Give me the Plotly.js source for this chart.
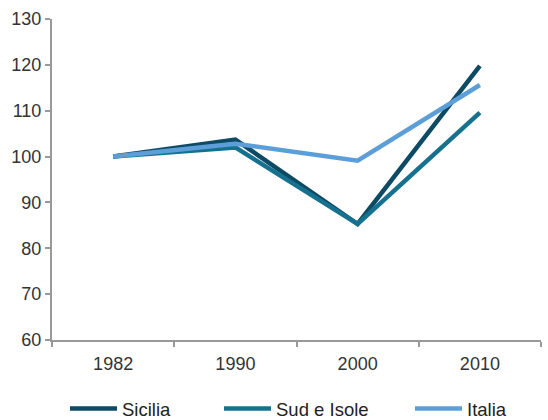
<!DOCTYPE html>
<html>
<head>
<meta charset="utf-8">
<script src="https://cdn.plot.ly/plotly-3.0.1.min.js"></script>
<style>
  html, body { margin: 0; padding: 0; background: #fff; }
  #chart { width: 548px; height: 420px; }
</style>
</head>
<body>
<div id="chart"></div>
<script>
// Index numbers (1982 = 100)
const years = ["1982", "1990", "2000", "2010"];
const sicilia = [100, 103.7, 85.3, 119.8];
const sudIsole = [100, 102.0, 85.3, 109.6];
const italia = [100, 102.8, 99.1, 115.6];

const seriesNames = ["Sicilia", "Sud e Isole", "Italia"];
const seriesColors = ["#0d4a64", "#16718f", "#5c9fd8"];
const seriesValues = [sicilia, sudIsole, italia];
const legendIds = ["legend", "legend2", "legend3"];
// left edge of each legend entry, in px of the page
const legendLeft = [65, 219, 410];

const traces = seriesValues.map((vals, i) => ({
  type: "scatter",
  mode: "lines",
  x: years,
  y: vals,
  name: seriesNames[i],
  legend: legendIds[i],
  line: { color: seriesColors[i], width: 4.5 },
  hoverinfo: "skip"
}));

const axisColor = "#999999";
const fontFamily = "Liberation Sans, Arial, sans-serif";
const tickFont = { family: fontFamily, size: 18, color: "#333333" };

const layout = {
  width: 548,
  height: 420,
  margin: { l: 52, r: 7, t: 19, b: 80 },
  paper_bgcolor: "#ffffff",
  plot_bgcolor: "#ffffff",
  showlegend: true,
  hovermode: false,
  xaxis: {
    type: "category",
    tickson: "boundaries",
    showgrid: false,
    zeroline: false,
    showline: true,
    linecolor: axisColor,
    linewidth: 2,
    ticks: "outside",
    ticklen: 5,
    tickwidth: 2,
    tickcolor: axisColor,
    tickfont: tickFont,
    ticklabelstandoff: 6,
    range: [-0.5, 3.5],
    fixedrange: true
  },
  yaxis: {
    range: [60, 130],
    dtick: 10,
    showgrid: false,
    zeroline: false,
    showline: true,
    linecolor: axisColor,
    linewidth: 2,
    ticks: "outside",
    ticklen: 5,
    tickwidth: 2,
    tickcolor: axisColor,
    tickfont: tickFont,
    ticklabelstandoff: 0,
    fixedrange: true
  }
};

legendIds.forEach((id, i) => {
  layout[id] = {
    orientation: "h",
    xref: "container",
    yref: "container",
    x: legendLeft[i] / 548,
    xanchor: "left",
    y: 11 / 420,
    yanchor: "middle",
    itemwidth: 47,
    bgcolor: "rgba(0,0,0,0)",
    font: { family: fontFamily, size: 18.5, color: "#222222" },
    itemclick: false,
    itemdoubleclick: false
  };
});

Plotly.newPlot("chart", traces, layout, { displayModeBar: false, staticPlot: true });
</script>
</body>
</html>
